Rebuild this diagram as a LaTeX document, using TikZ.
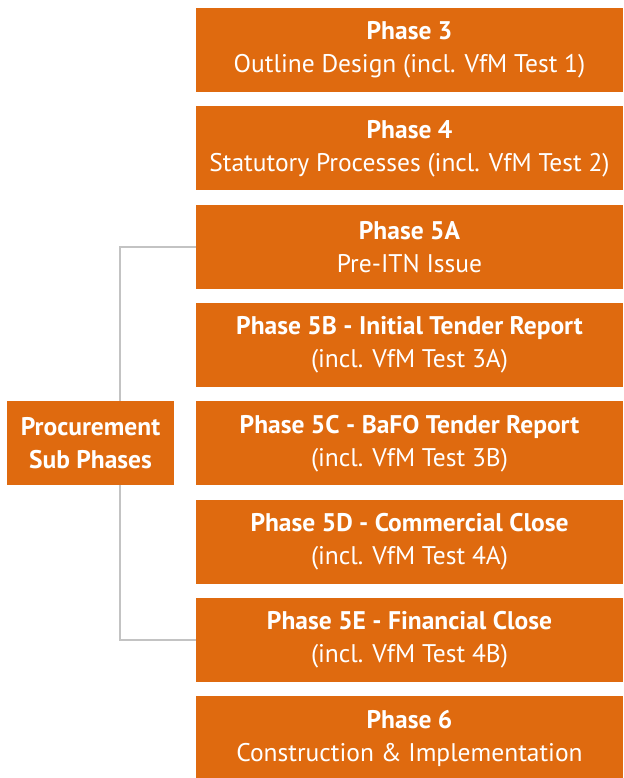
\documentclass[tikz,border=0pt]{standalone}
\usepackage{fontspec}
\setmainfont{PT Sans}
\usepackage{xcolor}
\usepackage{tikz}
\usetikzlibrary{calc}

\definecolor{phaseorange}{HTML}{DF6A0F}
\definecolor{railgray}{HTML}{C3C3C3}

\begin{document}
\begin{tikzpicture}[x=1pt,y=-1pt,
  phasebox/.style={fill=phaseorange,text=white,align=center,
    minimum width=427pt,minimum height=84pt,inner sep=0pt,
    font=\fontsize{25.5}{33}\selectfont},
  procbox/.style={fill=phaseorange,text=white,align=center,
    minimum width=167pt,minimum height=84pt,inner sep=0pt,
    font=\fontsize{25.5}{33}\selectfont\bfseries},
  link/.style={draw=railgray,line width=2pt}]
\useasboundingbox (0,0) rectangle (623,778);

% Main phases
\node[phasebox] (p3) at (409.5,50) {\textbf{Phase 3}\\Outline Design (incl. VfM Test 1)};
\node[phasebox] (p4) at (409.5,148.3) {\textbf{Phase 4}\\Statutory Processes (incl. VfM Test 2)};
\node[phasebox] (p5a) at (409.5,246.6) {\textbf{Phase 5A}\\Pre-ITN Issue};
\node[phasebox] (p5b) at (409.5,344.9) {\textbf{Phase 5B - Initial Tender Report}\\(incl. VfM Test 3A)};
\node[phasebox] (p5c) at (409.5,443.2) {\textbf{Phase 5C - BaFO Tender Report}\\(incl. VfM Test 3B)};
\node[phasebox] (p5d) at (409.5,541.5) {\textbf{Phase 5D - Commercial Close}\\(incl. VfM Test 4A)};
\node[phasebox] (p5e) at (409.5,639.8) {\textbf{Phase 5E - Financial Close}\\(incl. VfM Test 4B)};
\node[phasebox] (p6) at (409.5,738.1) {\textbf{Phase 6}\\Construction \& Implementation};

% Bracket for the procurement sub phases
\coordinate (rail) at (120,0);
\draw[link] (p5a.west) -| (rail |- p5e.west) -- (p5e.west);

% Procurement label
\node[procbox] (proc) at (90.5,443.2) {Procurement\\Sub Phases};
\end{tikzpicture}
\end{document}
